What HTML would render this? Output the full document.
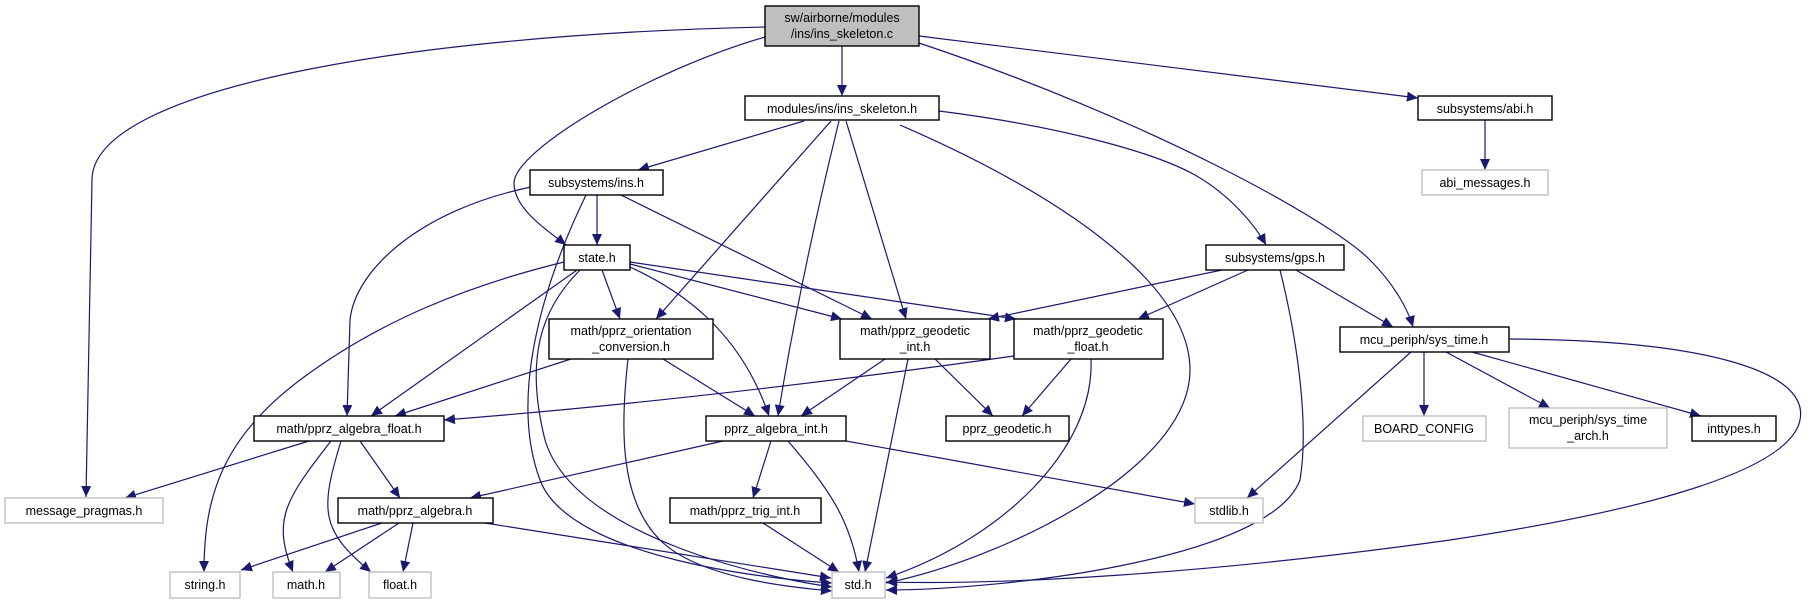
<!DOCTYPE html>
<html><head><meta charset="utf-8"><style>
html,body{margin:0;padding:0;background:#fff;}
svg{display:block;}
text{font-family:"Liberation Sans",sans-serif;font-size:12.5px;fill:#000;}
.e{fill:none;stroke:#191970;stroke-width:1.2;marker-end:url(#a);}
.n{fill:#fff;stroke:#000;stroke-width:1.4;}
.g{fill:#fff;stroke:#bfbfbf;stroke-width:1.4;}
</style></head><body>
<svg width="1818" height="604" viewBox="0 0 1818 604" xmlns="http://www.w3.org/2000/svg">
<defs><marker id="a" markerUnits="userSpaceOnUse" markerWidth="12" markerHeight="10" refX="11" refY="5" orient="auto"><path d="M0,0 L11,5 L0,10 z" fill="#191970"/></marker></defs>
<!-- edges -->
<path class="e" d="M765,27 C400,35 92,90 92,180 L86,497"/>
<path class="e" d="M765,37 C650,70 514,150 514,183 C514,210 550,232 566,245"/>
<path class="e" d="M842,46 L842,96"/>
<path class="e" d="M919,36 L1418,98"/>
<path class="e" d="M919,43 C1150,120 1330,220 1370,260 C1395,285 1408,310 1413,327"/>
<path class="e" d="M804,121 L638,170"/>
<path class="e" d="M831,121 L656,319"/>
<path class="e" d="M839,121 Q800,280 778,416"/>
<path class="e" d="M846,121 L906,319"/>
<path class="e" d="M900,125 C1050,190 1190,280 1190,370 C1190,470 1000,560 886,583"/>
<path class="e" d="M939,111 C1050,125 1150,150 1195,175 C1230,195 1255,225 1266,245"/>
<path class="e" d="M531,187 C420,210 355,270 350,320 L347,416"/>
<path class="e" d="M586,195 C540,290 510,400 540,480 C570,560 780,580 832,583"/>
<path class="e" d="M597,195 L597,245"/>
<path class="e" d="M621,195 L872,319"/>
<path class="e" d="M564,262 C470,285 380,320 300,380 C220,440 204,500 204,572"/>
<path class="e" d="M577,270 L371,416"/>
<path class="e" d="M580,270 C540,310 525,360 545,440 C575,540 780,580 832,587"/>
<path class="e" d="M602,270 L620,319"/>
<path class="e" d="M630,267 C680,290 740,330 769,416"/>
<path class="e" d="M630,264 L842,319"/>
<path class="e" d="M630,262 L1016,319"/>
<path class="e" d="M1248,270 L1138,319"/>
<path class="e" d="M1280,270 C1295,330 1310,420 1300,480 C1270,560 1000,590 886,590"/>
<path class="e" d="M1296,270 L1393,327"/>
<path class="e" d="M1222,270 L988,319"/>
<path class="e" d="M571,359 L395,416"/>
<path class="e" d="M628,359 C620,430 620,500 660,540 C700,580 800,588 832,591"/>
<path class="e" d="M663,359 L755,416"/>
<path class="e" d="M885,359 L801,416"/>
<path class="e" d="M908,359 L865,572"/>
<path class="e" d="M935,359 L993,416"/>
<path class="e" d="M1014,356 Q700,400 444,420"/>
<path class="e" d="M1071,359 L1022,416"/>
<path class="e" d="M1091,359 C1095,450 1000,540 886,578"/>
<path class="e" d="M309,441 L125,498"/>
<path class="e" d="M331,441 C285,500 272,520 293,572"/>
<path class="e" d="M341,441 C320,510 320,530 371,572"/>
<path class="e" d="M360,441 L400,498"/>
<path class="e" d="M723,441 L470,498"/>
<path class="e" d="M771,441 L753,498"/>
<path class="e" d="M788,441 C830,490 850,520 859,572"/>
<path class="e" d="M846,441 L1195,504"/>
<path class="e" d="M382,523 L241,570"/>
<path class="e" d="M399,523 L325,572"/>
<path class="e" d="M413,523 L403,572"/>
<path class="e" d="M485,523 L831,578"/>
<path class="e" d="M763,523 L839,572"/>
<path class="e" d="M1411,352 L1247,498"/>
<path class="e" d="M1424,352 L1424,416"/>
<path class="e" d="M1446,352 L1550,408"/>
<path class="e" d="M1472,352 L1701,416"/>
<path class="e" d="M1509,339 C1700,340 1810,370 1800,420 C1790,470 1650,510 1450,540 C1200,575 1000,585 886,582"/>
<path class="e" d="M1485,120 L1485,170"/>
<!-- nodes -->
<rect x="765" y="6" width="154" height="40" fill="#bfbfbf" stroke="#000" stroke-width="1.4"/>
<text x="842" y="22" text-anchor="middle">sw/airborne/modules</text>
<text x="842" y="38" text-anchor="middle">/ins/ins_skeleton.c</text>
<rect class="n" x="745" y="96" width="194" height="24"/><text x="842" y="113" text-anchor="middle">modules/ins/ins_skeleton.h</text>
<rect class="n" x="1418" y="96" width="134" height="24"/><text x="1485" y="113" text-anchor="middle">subsystems/abi.h</text>
<rect class="g" x="1422" y="170" width="126" height="25"/><text x="1485" y="187" text-anchor="middle">abi_messages.h</text>
<rect class="n" x="530" y="170" width="133" height="25"/><text x="596" y="187" text-anchor="middle">subsystems/ins.h</text>
<rect class="n" x="564" y="245" width="66" height="25"/><text x="597" y="262" text-anchor="middle">state.h</text>
<rect class="n" x="1206" y="245" width="138" height="25"/><text x="1275" y="262" text-anchor="middle">subsystems/gps.h</text>
<rect class="n" x="549" y="319" width="164" height="40"/><text x="631" y="335" text-anchor="middle">math/pprz_orientation</text><text x="631" y="351" text-anchor="middle">_conversion.h</text>
<rect class="n" x="840" y="319" width="150" height="40"/><text x="915" y="335" text-anchor="middle">math/pprz_geodetic</text><text x="915" y="351" text-anchor="middle">_int.h</text>
<rect class="n" x="1014" y="319" width="149" height="40"/><text x="1088" y="335" text-anchor="middle">math/pprz_geodetic</text><text x="1088" y="351" text-anchor="middle">_float.h</text>
<rect class="n" x="1340" y="327" width="169" height="25"/><text x="1424" y="344" text-anchor="middle">mcu_periph/sys_time.h</text>
<rect class="n" x="254" y="416" width="190" height="25"/><text x="349" y="433" text-anchor="middle">math/pprz_algebra_float.h</text>
<rect class="n" x="706" y="416" width="140" height="25"/><text x="776" y="433" text-anchor="middle">pprz_algebra_int.h</text>
<rect class="n" x="946" y="416" width="123" height="25"/><text x="1007" y="433" text-anchor="middle">pprz_geodetic.h</text>
<rect class="g" x="1363" y="416" width="123" height="25"/><text x="1424" y="433" text-anchor="middle">BOARD_CONFIG</text>
<rect class="g" x="1509" y="408" width="158" height="40"/><text x="1588" y="424" text-anchor="middle">mcu_periph/sys_time</text><text x="1588" y="440" text-anchor="middle">_arch.h</text>
<rect class="n" x="1692" y="416" width="84" height="25"/><text x="1734" y="433" text-anchor="middle">inttypes.h</text>
<rect class="g" x="5" y="498" width="158" height="25"/><text x="84" y="515" text-anchor="middle">message_pragmas.h</text>
<rect class="n" x="338" y="498" width="155" height="25"/><text x="415" y="515" text-anchor="middle">math/pprz_algebra.h</text>
<rect class="n" x="670" y="498" width="151" height="25"/><text x="745" y="515" text-anchor="middle">math/pprz_trig_int.h</text>
<rect class="g" x="1195" y="498" width="68" height="25"/><text x="1229" y="515" text-anchor="middle">stdlib.h</text>
<rect class="g" x="170" y="572" width="70" height="26"/><text x="205" y="589" text-anchor="middle">string.h</text>
<rect class="g" x="273" y="572" width="67" height="26"/><text x="306" y="589" text-anchor="middle">math.h</text>
<rect class="g" x="369" y="572" width="62" height="26"/><text x="400" y="589" text-anchor="middle">float.h</text>
<rect class="g" x="832" y="572" width="53" height="26"/><text x="858" y="589" text-anchor="middle">std.h</text>
</svg>
</body></html>
